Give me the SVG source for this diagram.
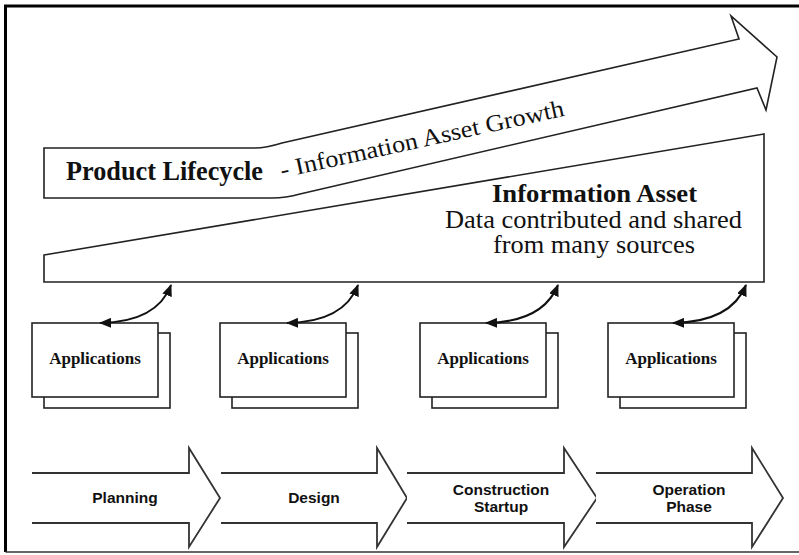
<svg xmlns="http://www.w3.org/2000/svg" width="799" height="555" viewBox="0 0 799 555">
<defs>
<style>
.ln{fill:#fff;stroke:#222;stroke-width:1.6;stroke-linejoin:miter}
.ph{fill:#fff;stroke:#333;stroke-width:1.8;stroke-linejoin:miter}
.ser{font-family:"Liberation Serif","Times New Roman",serif;fill:#111}
.app{font-family:"Liberation Serif","Times New Roman",serif;font-weight:bold;font-size:17px;fill:#111;text-anchor:middle}
.sans{font-family:"Liberation Sans",Arial,sans-serif;font-weight:bold;font-size:15.5px;fill:#111}
.con{fill:none;stroke:#111;stroke-width:2;marker-start:url(#ah);marker-end:url(#ah)}
</style>
<marker id="ah" markerUnits="userSpaceOnUse" markerWidth="12" markerHeight="10" refX="11" refY="5" orient="auto-start-reverse" viewBox="0 0 12 10">
<path d="M0,0 L12,5 L0,10 Z" fill="#111"/>
</marker>
</defs>
<rect width="799" height="555" fill="#fff"/>
<path d="M5.5,552 V6 H799" fill="none" stroke="#000" stroke-width="3"/>
<path d="M5.5,552 H799" fill="none" stroke="#333" stroke-width="1.5"/>

<g id="lifecycle-arrow">
<path class="ln" d="M44,148 H255 Q266,148 282,143 L739,39 L731,16 L777,57 L766,110 L757,88 L300,194 Q286,198 272,198 H44 Z"/>
<text class="ser" x="66" y="180" font-size="27" font-weight="bold" textLength="197" lengthAdjust="spacingAndGlyphs">Product Lifecycle</text>
<text class="ser" x="282" y="178" font-size="24" textLength="290" lengthAdjust="spacingAndGlyphs" transform="rotate(-12.4 282 178)">- Information Asset Growth</text>
</g>

<g id="information-asset">
<path class="ln" d="M44,255 L764,134 L764,282 L44,282 Z"/>
<text class="ser" x="492" y="202" font-size="25" font-weight="bold" textLength="205" lengthAdjust="spacingAndGlyphs">Information Asset</text>
<text class="ser" x="445" y="228" font-size="25" textLength="297" lengthAdjust="spacingAndGlyphs">Data contributed and shared</text>
<text class="ser" x="493" y="253" font-size="25" textLength="202" lengthAdjust="spacingAndGlyphs">from many sources</text>
</g>

<g id="applications-1">
<rect class="ln" x="44" y="333" width="126" height="75"/>
<rect class="ln" x="32" y="323" width="126" height="74"/>
<text class="app" x="95" y="364">Applications</text>
</g>
<g id="applications-2">
<rect class="ln" x="232" y="333" width="126" height="75"/>
<rect class="ln" x="220" y="323" width="126" height="74"/>
<text class="app" x="283" y="364">Applications</text>
</g>
<g id="applications-3">
<rect class="ln" x="432" y="333" width="126" height="75"/>
<rect class="ln" x="420" y="323" width="126" height="74"/>
<text class="app" x="483" y="364">Applications</text>
</g>
<g id="applications-4">
<rect class="ln" x="620" y="333" width="126" height="75"/>
<rect class="ln" x="608" y="323" width="126" height="74"/>
<text class="app" x="671" y="364">Applications</text>
</g>

<g id="connectors">
<path class="con" d="M100,323 Q157,322 171,285"/>
<path class="con" d="M287,323 Q344,322 358,285"/>
<path class="con" d="M486,323 Q543,322 558,285"/>
<path class="con" d="M673,323 Q731,322 746,285"/>
</g>

<g id="phase-planning">
<path class="ph" d="M32,473 H189 V448 L220,498 L189,547 V523 H32"/>
<text class="sans" x="125" y="503" text-anchor="middle">Planning</text>
</g>
<g id="phase-design">
<path class="ph" d="M221,473 H377 V448 L407,498 L377,547 V523 H221"/>
<text class="sans" x="314" y="503" text-anchor="middle">Design</text>
</g>
<g id="phase-construction">
<path class="ph" d="M407,473 H564 V448 L597,498 L564,547 V523 H407"/>
<text class="sans" x="501" y="495" text-anchor="middle">Construction</text>
<text class="sans" x="501" y="512" text-anchor="middle">Startup</text>
</g>
<g id="phase-operation">
<path class="ph" d="M596,473 H752 V448 L783,498 L752,547 V523 H596"/>
<text class="sans" x="689" y="495" text-anchor="middle">Operation</text>
<text class="sans" x="689" y="512" text-anchor="middle">Phase</text>
</g>
</svg>
